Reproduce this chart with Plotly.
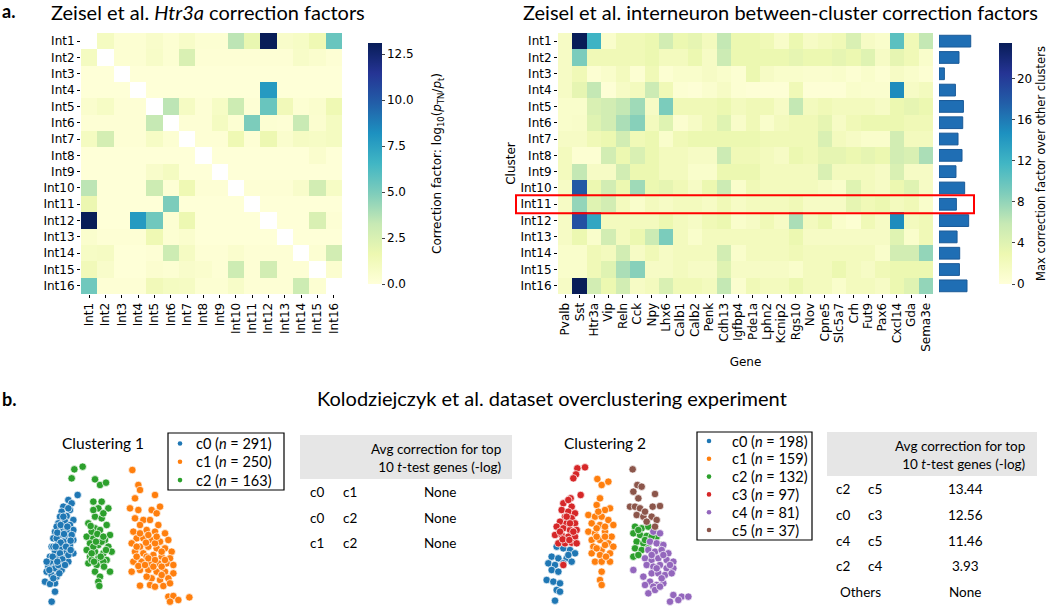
import plotly.graph_objects as go

W, H = 1050, 606

# ---------------- data ----------------
CLUSTERS = [f"Int{i}" for i in range(1, 17)]

GENES = ["Pvalb", "Sst", "Htr3a", "Vip", "Reln", "Cck", "Npy", "Lhx6", "Calb1",
         "Calb2", "Penk", "Cdh13", "Igfbp4", "Pde1a", "Lphn2", "Kcnip2", "Rgs10",
         "Nov", "Cpne5", "Slc5a7", "Crh", "Fut9", "Pax6", "Cxcl14", "Gda", "Sema3e"]

# Htr3a correction factors, cluster vs cluster (diagonal empty)
HTR3A_CF = [
    [None, 1.0, 0.3, 0.3, 0.6, 0.3, 0.7, 0.3, 0.3, 3.5, 1.8, 13.1, 0.6, 0.8, 1.5, 5.5],
    [1.0, None, 0.3, 0.3, 0.7, 0.3, 2.5, 0.2, 0.2, 0.2, 0.2, 0.2, 0.2, 0.7, 0.5, 0.2],
    [0.1, 0.1, None, 0.1, 0.1, 0.1, 0.1, 0.1, 0.1, 0.1, 0.1, 0.1, 0.1, 0.1, 0.1, 0.1],
    [0.1, 0.1, 0.1, None, 0.1, 0.1, 0.1, 0.1, 0.1, 0.1, 0.1, 7.8, 0.1, 0.1, 0.1, 0.1],
    [0.5, 0.8, 0.2, 0.2, None, 3.5, 0.9, 0.2, 0.8, 3.0, 0.2, 5.5, 1.3, 0.3, 0.5, 1.5],
    [0.2, 0.2, 0.2, 0.2, 3.3, None, 0.2, 0.2, 1.0, 0.3, 5.0, 0.3, 0.2, 3.2, 0.4, 1.0],
    [1.0, 2.7, 0.2, 0.2, 0.8, 0.3, None, 0.2, 0.2, 1.5, 0.2, 1.6, 0.5, 0.9, 0.8, 1.0],
    [0.1, 0.1, 0.1, 0.1, 0.1, 0.1, 0.1, None, 0.1, 0.1, 0.1, 0.1, 0.1, 0.1, 0.5, 0.1],
    [0.1, 0.1, 0.1, 0.1, 0.6, 1.0, 0.1, 0.1, None, 0.1, 0.1, 0.1, 0.1, 0.1, 0.1, 0.1],
    [3.5, 0.1, 0.1, 0.1, 3.0, 0.2, 1.5, 0.2, 0.2, None, 0.2, 0.2, 0.2, 0.6, 2.8, 0.8],
    [1.7, 0.1, 0.1, 0.1, 0.1, 5.0, 0.1, 0.1, 0.1, 0.1, None, 0.1, 0.1, 0.1, 0.1, 0.1],
    [13.1, 0.1, 0.1, 7.8, 5.3, 0.3, 1.6, 0.1, 0.1, 0.1, 0.1, None, 0.1, 0.1, 2.5, 0.2],
    [0.5, 0.2, 0.2, 0.2, 1.5, 0.3, 0.5, 0.1, 0.1, 0.1, 0.1, 0.1, None, 0.1, 0.1, 0.1],
    [0.8, 0.9, 0.1, 0.1, 0.2, 3.0, 0.9, 0.2, 0.2, 0.5, 0.2, 0.2, 0.2, None, 0.3, 2.8],
    [1.3, 0.6, 0.1, 0.1, 0.4, 0.3, 0.6, 0.5, 0.2, 3.0, 0.2, 2.8, 0.2, 0.2, None, 0.4],
    [5.3, 0.2, 0.2, 0.2, 1.3, 1.0, 0.9, 0.3, 0.3, 0.7, 0.2, 0.2, 0.2, 3.0, 0.3, None],
]

# interneuron between-cluster correction factors, cluster x gene
GENE_CF = [
    [1.5, 23.5, 12, 1.0, 2.5, 2.5, 3, 5, 3, 3.5, 2, 6, 3, 3, 2.5, 1.2, 3, 1.5, 2, 2.5, 4.5, 1.5, 1, 10.5, 2.5, 6],
    [1.5, 9, 2.5, 2.5, 2.5, 2.5, 3, 2, 2, 3, 1.5, 5.5, 3, 3, 3, 3, 3.5, 3, 3, 3.5, 3, 4, 1.5, 3.5, 2.5, 1.0],
    [1.5, 2.5, 0.5, 1.0, 2, 0.5, 2.5, 0.5, 1.0, 1.0, 1.5, 1, 0.5, 3, 1.5, 1.0, 1.0, 0.8, 0.8, 1.0, 0.5, 1.0, 0.5, 1.5, 1.0, 0.5],
    [1.5, 3.5, 6, 0.3, 1.5, 2, 5.5, 2.5, 0.5, 0.3, 0.8, 1.5, 0.5, 0.3, 0.3, 0.3, 2.5, 0.3, 0.3, 0.3, 1.0, 0.8, 0.8, 15, 1.5, 2],
    [1.0, 1.0, 4.5, 5, 6, 7.5, 1.5, 9, 2.5, 2.5, 2.5, 3, 2, 2.5, 2.5, 1.5, 6, 2, 2.5, 2, 2, 2, 1.5, 3, 3.5, 3],
    [1.0, 1.2, 4, 5, 7, 8.5, 2, 4, 0.7, 1.5, 2.5, 4, 1.2, 2.5, 1.0, 2.0, 2.5, 2.5, 3.5, 1.5, 2.5, 3, 3, 3, 2.5, 2.5],
    [1.5, 1.5, 2.5, 3, 5, 2.5, 3, 1.0, 2.5, 3, 3, 3, 3, 3, 2.5, 2.5, 2.5, 2.5, 4.5, 2, 1.5, 1.0, 1.0, 5, 2, 2],
    [2, 0.5, 0.5, 5, 3, 4.5, 3, 2, 2, 1.5, 1.5, 5.5, 2.5, 2.5, 2.0, 1.5, 3, 2.5, 3.5, 3.5, 3, 3.5, 3, 5, 4.5, 7],
    [2, 6, 1.5, 1.5, 5, 3, 3, 2, 2, 1.0, 1.0, 3, 3, 3, 2, 2, 2, 2, 4.5, 2, 2, 2, 1.5, 4.5, 1.5, 1.5],
    [1.5, 18, 3, 5, 3, 7.5, 3, 3.5, 2.5, 1.5, 3, 5.5, 1.0, 2.5, 2, 2, 2, 2, 1.5, 1.0, 4, 2, 1.5, 3, 4, 1.5],
    [1.5, 8, 4, 5, 2, 1.0, 2, 1.5, 2, 2, 1.5, 2.5, 1.5, 2, 2, 2, 2.5, 1.5, 1.5, 1.5, 3.5, 2.5, 3, 2, 2.5, 1.0],
    [1.5, 18.5, 13, 2, 2, 2, 2, 3, 2, 1.5, 2.5, 3, 1.0, 1.5, 2.5, 1.5, 7, 2, 3, 1.0, 0.5, 2.5, 1.5, 15, 2, 2.5],
    [1.5, 3, 1.0, 5, 2, 3, 5.5, 9, 2, 1.0, 2, 2, 2, 2, 2, 2, 3, 1.5, 1.5, 1.5, 1.5, 1.5, 1.5, 4, 1.0, 2.5],
    [1.0, 1.0, 2.5, 2, 5, 1.5, 2.5, 1.5, 2, 2, 2, 5, 1.0, 2, 2, 2, 2.5, 2, 2, 2, 2, 2, 1.0, 5, 5, 8],
    [1.0, 1.0, 2.5, 4, 7, 8.5, 1.5, 1.5, 2, 1.5, 1.5, 4, 1.5, 1.5, 1.5, 1.5, 1.0, 2, 2, 3, 2, 1.5, 2.5, 3, 3, 3],
    [1.5, 23.5, 5, 3, 5, 1.5, 2, 4.5, 2.5, 2.5, 2, 6, 0.8, 2.5, 2, 2, 3, 2, 2, 1.0, 2, 2, 1.5, 3, 4, 8],
]

# max correction factor over other clusters (bar column)
MAX_CF = [23.0, 14.5, 3.9, 11.9, 17.7, 17.2, 13.8, 16.7, 12.3, 18.6, 12.6, 21.5, 13.1, 15.0, 14.8, 20.3]

# Clustering 1 embedding
C1_C0_X = [11.3, 8.5, 7.0, 9.5, 6.5, 9.0, 8.0, 6.0, 10.0, 7.5, 5.5, 9.0, 7.0, 10.0, 4.5, 6.0, 8.5, 4.0, 7.5,
           10.0, 5.5, 9.0, 3.5, 6.5, 8.0, 4.5, 10.0, 3.0, 5.5, 7.5, 4.0, 6.0, 2.5, 8.5, 4.5, 6.5, 2.0, 3.5,
           5.0, 1.5, 4.5, 3.0, 4.5, 3.5, 7.0, 5.0, 6.0, 8.0, 9.5, 3.0, 8.5, 7.0, 5.0, 4.0, 8.5, 2.0, 5.5, 4.0,
           6.2, 8.2, 5.2, 7.2, 9.2, 6.2, 4.7, 7.8, 9.2, 3.8, 6.7, 5.2, 7.5, 2.8, 5.8]
C1_C0_Y = [44.5, 43.0, 41.0, 42.0, 39.5, 40.0, 38.2, 38.0, 37.0, 36.5, 36.0, 35.5, 34.5, 34.0, 33.5, 32.5,
           32.5, 31.5, 31.0, 31.0, 30.0, 29.5, 29.0, 28.5, 27.5, 27.5, 27.0, 26.0, 26.0, 25.5, 24.5, 24.0,
           23.0, 24.5, 22.5, 22.0, 21.5, 20.5, 20.0, 18.5, 18.0, 17.8, 15.5, 12.5, 30.5, 31.5, 27.0, 34.0,
           32.5, 24.5, 40.5, 38.0, 35.0, 29.0, 26.5, 24.5, 23.5, 19.5,
           35.5, 35.0, 33.2, 32.8, 30.8, 30.2, 29.0, 29.0, 28.0, 26.0, 25.2, 24.5, 23.5, 22.0, 21.0]
C1_C1_X = [27.7, 29.5, 30.0, 28.5, 34.5, 36.0, 27.0, 29.5, 33.5, 35.0, 28.5, 31.0, 33.0, 30.0, 35.5, 28.0,
           32.0, 34.5, 37.5, 29.0, 31.0, 33.5, 36.0, 38.5, 27.5, 30.0, 32.5, 35.0, 37.5, 39.5, 28.5, 31.0,
           34.0, 36.5, 39.0, 28.0, 30.5, 33.0, 35.5, 38.0, 40.0, 30.0, 32.5, 35.0, 37.5, 40.0, 27.5, 33.5,
           36.0, 30.0, 33.0, 34.5, 37.0, 38.5, 40.0, 41.5, 44.8, 39.0, 32.0, 34.5, 36.5, 29.0, 32.0, 38.5,
           30.0, 32.5, 35.0, 31.8, 29.0, 36.5, 32.5, 34.5, 37.5, 29.5, 34.0, 31.5, 36.5, 39.0]
C1_C1_Y = [52.0, 47.5, 46.0, 43.5, 44.5, 41.0, 40.5, 40.0, 40.0, 39.0, 37.5, 37.0, 37.0, 35.5, 35.5, 33.5,
           34.0, 33.5, 33.0, 31.5, 31.5, 31.0, 30.5, 31.0, 30.0, 29.0, 29.0, 28.5, 28.5, 27.5, 27.5, 27.0,
           26.5, 26.0, 25.5, 24.5, 24.5, 24.0, 24.0, 24.0, 23.5, 22.0, 22.0, 21.5, 21.5, 21.0, 21.5, 19.5,
           19.0, 17.3, 17.5, 17.0, 17.2, 14.0, 14.2, 13.0, 13.8, 12.5, 26.0, 30.0, 23.0, 26.0, 20.0, 19.5,
           33.0, 32.5, 32.0, 30.2, 29.0, 27.5, 25.5, 25.0, 25.0, 23.2, 23.0, 23.5, 20.5, 18.0]
C1_C2_X = [10.3, 12.8, 9.5, 16.5, 18.0, 19.8, 16.0, 18.5, 17.5, 20.5, 16.5, 18.5, 14.5, 20.0, 16.5, 18.0,
           21.0, 14.0, 16.0, 19.5, 15.0, 17.5, 20.5, 14.0, 16.5, 19.0, 21.5, 15.0, 17.5, 20.0, 14.5, 17.0,
           21.0, 16.5, 18.0, 17.5, 17.8, 16.0, 19.0, 15.5, 18.5, 16.0, 19.0, 15.5,
           15.2, 17.2, 19.0, 16.8, 19.8, 15.5, 18.2, 16.2, 19.2]
C1_C2_Y = [52.2, 53.0, 49.5, 49.2, 47.5, 48.2, 42.5, 42.5, 40.5, 40.5, 38.0, 37.5, 36.0, 35.5, 34.5, 34.0,
           32.5, 32.0, 31.5, 31.0, 30.0, 29.5, 29.0, 28.0, 27.5, 27.0, 27.5, 26.0, 25.5, 25.0, 24.0, 23.5,
           21.5, 21.5, 20.0, 18.5, 17.2, 40.0, 39.0, 33.5, 30.5, 29.0, 24.5, 25.0,
           35.2, 32.8, 32.0, 30.5, 28.0, 27.0, 26.0, 24.5, 23.0]

# Clustering 2 embedding
C2_C0_X = [11.0, 13.0, 15.0, 16.5, 9.5, 11.5, 14.0, 15.5, 8.5, 10.5, 13.0, 9.5, 11.5, 8.0, 10.0, 12.0,
           11.0, 12.0, 10.5, 14.5]
C2_C0_Y = [20.0, 19.5, 19.0, 18.0, 17.0, 16.5, 16.5, 15.5, 15.0, 14.5, 15.0, 13.0, 12.5, 10.0, 9.5, 9.0,
           7.0, 6.5, 3.8, 17.5]
C2_C1_X = [23.2, 24.5, 26.5, 24.0, 23.0, 27.0, 20.5, 22.5, 24.5, 26.5, 21.5, 24.0, 28.0, 20.5, 22.5, 25.5,
           27.5, 21.5, 24.0, 26.5, 28.0, 22.0, 24.5, 21.5, 24.0, 27.0, 22.5, 24.5, 27.0, 24.5, 24.0, 24.5,
           25.5, 23.0, 25.5, 23.5, 25.5, 23.0, 25.5, 23.0, 25.8]
C2_C1_Y = [40.3, 38.5, 39.5, 34.5, 32.5, 31.5, 29.5, 29.0, 29.0, 28.0, 27.0, 26.5, 26.5, 24.5, 24.0, 24.5,
           23.0, 22.0, 22.0, 21.0, 20.0, 20.0, 19.0, 18.0, 17.5, 18.0, 15.5, 15.5, 15.5, 12.5, 10.0, 8.5,
           31.0, 25.5, 20.5, 30.5, 26.0, 23.0, 23.0, 19.5, 17.0]
C2_C2_X = [34.5, 36.5, 38.5, 34.0, 36.0, 38.0, 35.0, 37.0, 34.5, 36.5, 38.5, 42.5, 34.0, 35.5, 41.0,
           35.5, 37.5, 39.5]
C2_C2_Y = [26.0, 25.5, 26.0, 24.0, 23.5, 23.2, 21.5, 21.0, 19.5, 19.0, 19.5, 20.5, 17.0, 17.5, 23.0,
           25.0, 22.0, 23.0]
C2_C3_X = [17.2, 19.5, 16.8, 16.0, 18.2, 15.2, 13.0, 15.5, 12.5, 14.5, 16.5, 13.5, 15.5, 12.0, 14.0, 16.5,
           11.0, 13.0, 15.0, 17.0, 10.5, 12.5, 14.5, 16.5, 11.5, 13.5, 15.5, 13.0, 14.5, 12.0, 16.0,
           14.0, 15.0, 12.8, 14.8, 17.0]
C2_C3_Y = [43.5, 43.8, 41.7, 40.5, 35.5, 34.5, 33.0, 32.0, 31.0, 30.5, 30.0, 29.0, 28.5, 27.5, 27.0, 27.0,
           26.0, 25.5, 25.0, 25.0, 23.5, 23.5, 23.0, 23.0, 21.0, 21.0, 21.2, 14.5, 34.0, 24.5, 24.5,
           29.0, 27.0, 22.2, 22.0, 21.0]
C2_C4_X = [40.0, 42.0, 39.0, 41.0, 43.0, 38.5, 40.5, 42.5, 44.5, 37.5, 39.5, 41.5, 44.0, 46.0, 38.0, 40.0,
           42.0, 44.0, 46.0, 39.5, 41.5, 43.5, 45.5, 34.0, 37.0, 39.0, 41.0, 37.5, 38.5, 40.0, 43.0, 46.0,
           48.5, 50.5, 45.0, 47.5, 40.5, 42.0, 43.0, 39.5, 45.0, 41.0, 42.5]
C2_C4_Y = [24.5, 24.0, 21.5, 21.0, 20.5, 19.0, 18.5, 19.0, 18.0, 16.5, 16.0, 16.5, 16.0, 15.5, 14.5, 14.0,
           14.5, 13.5, 13.5, 12.0, 12.0, 11.5, 12.0, 13.0, 11.0, 9.5, 8.5, 8.5, 6.0, 8.0, 9.0, 5.5,
           5.0, 5.0, 3.5, 4.0, 7.0, 8.0, 17.5, 17.5, 14.5, 13.5, 10.5]
C2_C5_X = [33.8, 35.2, 36.5, 34.0, 35.5, 33.0, 34.5, 36.0, 40.5, 39.8, 42.0, 35.0, 37.0, 39.5, 41.0, 38.0,
           40.5, 37.5]
C2_C5_Y = [43.2, 38.5, 38.0, 36.5, 34.5, 32.0, 32.0, 31.5, 35.8, 32.0, 32.2, 29.5, 29.0, 29.0, 28.0, 27.5,
           26.0, 30.5]

LEGEND1 = ["c0 (<i>n</i> = 291)", "c1 (<i>n</i> = 250)", "c2 (<i>n</i> = 163)"]
LEGEND2 = ["c0 (<i>n</i> = 198)", "c1 (<i>n</i> = 159)", "c2 (<i>n</i> = 132)",
           "c3 (<i>n</i> = 97)", "c4 (<i>n</i> = 81)", "c5 (<i>n</i> = 37)"]

TABLE1_A = ["c0", "c0", "c1"]
TABLE1_B = ["c1", "c2", "c2"]
TABLE1_VAL = ["None", "None", "None"]
TABLE2_A = ["c2", "c0", "c4", "c2"]
TABLE2_B = ["c5", "c3", "c5", "c4"]
TABLE2_VAL = ["13.44", "12.56", "11.46", "3.93", "None"]

# ---------------- style ----------------
YLGNBU = ["#ffffd9", "#edf8b1", "#c7e9b4", "#7fcdbb", "#41b6c4",
          "#1d91c0", "#225ea8", "#253494", "#081d58"]
TAB = ["#1f77b4", "#ff7f0e", "#2ca02c", "#d62728", "#9467bd", "#8c564b"]
SANS = "Lato"
MPL = "DejaVu Sans"


def fx(p):
    return p / W


def fy(p):
    return 1 - p / H


fig = go.Figure()
shapes = []
ann = []


def text(x, y, t, size=13.5, xanchor="center", bold=False, family=SANS, align="center", angle=0):
    ann.append(dict(x=fx(x), y=fy(y), xref="paper", yref="paper", text=f"<b>{t}</b>" if bold else t,
                    showarrow=False, xanchor=xanchor, yanchor="middle", align=align, textangle=angle,
                    font=dict(family=family, size=size, color="black")))


# ========== heatmap 1 ==========
fig.add_trace(go.Heatmap(
    z=HTR3A_CF, x=CLUSTERS, y=CLUSTERS, colorscale=YLGNBU, zmin=0, zmax=13.1,
    xaxis="x", yaxis="y", hoverongaps=False,
    colorbar=dict(
        x=fx(358), xanchor="left", y=fy(163.5), yanchor="middle",
        len=261 / H, thickness=14, outlinewidth=0,
        ticks="outside", ticklen=3, tickvals=[0, 2.5, 5, 7.5, 10, 12.5],
        ticktext=["0.0", "2.5", "5.0", "7.5", "10.0", "12.5"],
        tickfont=dict(family=MPL, size=12),
    ),
))
text(438, 164, "Correction factor: log<sub>10</sub>(<i>p</i><sub>TN</sub>/<i>p</i><sub>t</sub>)",
     size=12, family=MPL, angle=-90)

# ========== heatmap 2 + bars ==========
fig.add_trace(go.Heatmap(
    z=GENE_CF, x=GENES, y=CLUSTERS, colorscale=YLGNBU, zmin=0, zmax=23.5,
    xaxis="x2", yaxis="y2",
    colorbar=dict(
        x=fx(989), xanchor="left", y=fy(163.5), yanchor="middle",
        len=261 / H, thickness=13, outlinewidth=0,
        ticks="outside", ticklen=3, tickvals=[0, 4, 8, 12, 16, 20],
        tickfont=dict(family=MPL, size=12),
    ),
))
text(1041, 164, "Max correction factor over other clusters", size=11.5, family=MPL, angle=-90)

fig.add_trace(go.Bar(
    x=MAX_CF, y=CLUSTERS, orientation="h", width=0.72,
    marker=dict(color="#1f6eb4", line=dict(color="#1a5a98", width=1)),
    xaxis="x3", yaxis="y3", showlegend=False, hoverinfo="x",
))

# ========== scatter plots ==========
sets1 = [(C1_C0_X, C1_C0_Y), (C1_C1_X, C1_C1_Y), (C1_C2_X, C1_C2_Y)]
for i, (xs, ys) in enumerate(sets1):
    fig.add_trace(go.Scatter(
        x=xs, y=ys, mode="markers", xaxis="x4", yaxis="y4", showlegend=False, cliponaxis=False,
        marker=dict(color=TAB[i], size=7.5, line=dict(color="white", width=0.7)),
    ))

sets2 = [(C2_C0_X, C2_C0_Y), (C2_C1_X, C2_C1_Y), (C2_C2_X, C2_C2_Y),
         (C2_C3_X, C2_C3_Y), (C2_C4_X, C2_C4_Y), (C2_C5_X, C2_C5_Y)]
for i, (xs, ys) in enumerate(sets2):
    fig.add_trace(go.Scatter(
        x=xs, y=ys, mode="markers", xaxis="x5", yaxis="y5", showlegend=False, cliponaxis=False,
        marker=dict(color=TAB[i], size=7.5, line=dict(color="white", width=0.7)),
    ))


# hand-drawn legends (tighter spacing than plotly's own)
def legend_box(x0, x1, y0, y1, labels, row0, step, mark_x, text_x):
    shapes.append(dict(type="rect", xref="paper", yref="paper", x0=fx(x0), x1=fx(x1),
                       y0=fy(y1), y1=fy(y0), line=dict(color="black", width=1.2)))
    for i, lab in enumerate(labels):
        yy = row0 + step * i
        r = 2.3
        shapes.append(dict(type="circle", xref="paper", yref="paper",
                           x0=fx(mark_x - r), x1=fx(mark_x + r), y0=fy(yy + r), y1=fy(yy - r),
                           fillcolor=TAB[i], line=dict(width=0)))
        text(text_x, yy, lab, size=14.5, xanchor="left")


legend_box(168, 284, 433, 490, LEGEND1, 443.5, 18.3, 180, 194)
legend_box(697, 812, 432, 540, LEGEND2, 441, 17.8, 709, 730)

# ========== axes ==========
cat_axis = dict(showgrid=False, zeroline=False, showline=False, ticks="outside", ticklen=3,
                tickcolor="black", tickfont=dict(family=MPL, size=12, color="black"))
hidden = dict(visible=False, showgrid=False, zeroline=False)
row_span = [fy(294), fy(33)]

fig.update_layout(
    xaxis=dict(cat_axis, domain=[fx(81), fx(342)], anchor="y", tickangle=-90),
    yaxis=dict(cat_axis, domain=row_span, anchor="x", range=[15.5, -0.5]),
    xaxis2=dict(cat_axis, domain=[fx(558), fx(933)], anchor="y2", tickangle=-90,
                title=dict(text="Gene", font=dict(family=MPL, size=12), standoff=6)),
    yaxis2=dict(cat_axis, domain=row_span, anchor="x2", range=[15.5, -0.5],
                title=dict(text="Cluster", font=dict(family=MPL, size=12), standoff=2)),
    xaxis3=dict(hidden, domain=[fx(939), fx(979)], anchor="y3", range=[0, 29]),
    yaxis3=dict(hidden, domain=row_span, anchor="x3", range=[15.5, -0.5],
                categoryorder="array", categoryarray=CLUSTERS),
    xaxis4=dict(hidden, domain=[fx(40), fx(200)], anchor="y4", range=[0, 48]),
    yaxis4=dict(hidden, domain=[fy(606), fy(455)], anchor="x4", range=[11.2, 56.5]),
    xaxis5=dict(hidden, domain=[fx(540), fx(700)], anchor="y5", range=[6, 54]),
    yaxis5=dict(hidden, domain=[fy(606), fy(455)], anchor="x5", range=[2.2, 47.5]),
)

# ========== text ==========
text(0, 11, "a.", size=18, xanchor="left", bold=True)
text(0, 399, "b.", size=18, xanchor="left", bold=True)
text(208, 12, "Zeisel et al. <i>Htr3a</i> correction factors", size=20)
text(780, 12, "Zeisel et al. interneuron between-cluster correction factors", size=20)
text(552, 398, "Kolodziejczyk et al. dataset overclustering experiment", size=20)
text(103, 443, "Clustering 1", size=15.5)
text(605, 443, "Clustering 2", size=15.5)

# table 1
shapes.append(dict(type="rect", xref="paper", yref="paper", x0=fx(300), x1=fx(512), y0=fy(479), y1=fy(435),
                   fillcolor="#e6e6e6", line=dict(width=0), layer="below"))
text(503, 458, "Avg correction for top<br>10 <i>t</i>-test genes (-log)", xanchor="right", align="right")
for i in range(len(TABLE1_A)):
    yy = 492 + 25.5 * i
    text(317, yy, TABLE1_A[i])
    text(350, yy, TABLE1_B[i])
    text(440, yy, TABLE1_VAL[i])

# table 2
shapes.append(dict(type="rect", xref="paper", yref="paper", x0=fx(827), x1=fx(1037), y0=fy(476), y1=fy(432),
                   fillcolor="#e6e6e6", line=dict(width=0), layer="below"))
text(1027, 455, "Avg correction for top<br>10 <i>t</i>-test genes (-log)", xanchor="right", align="right")
for i in range(len(TABLE2_VAL)):
    yy = 489 + 25.8 * i
    if i < len(TABLE2_A):
        text(843, yy, TABLE2_A[i])
        text(875, yy, TABLE2_B[i])
    else:
        text(860, yy, "Others")
    text(965, yy, TABLE2_VAL[i])

# red highlight around Int11
shapes.append(dict(type="rect", xref="paper", yref="y2", x0=fx(516), x1=fx(974), y0=9.45, y1=10.55,
                   line=dict(color="#ff0000", width=2)))

fig.update_layout(
    annotations=ann,
    shapes=shapes,
    width=W, height=H,
    margin=dict(l=0, r=0, t=0, b=0),
    paper_bgcolor="white", plot_bgcolor="rgba(0,0,0,0)",
    font=dict(family=MPL, size=12, color="black"),
    showlegend=False,
)

# drop the browser's default body margin so the figure sits at (0, 0)
fig.write_html("out.html", config={"displayModeBar": False},
               post_script="document.body.style.margin='0';")
